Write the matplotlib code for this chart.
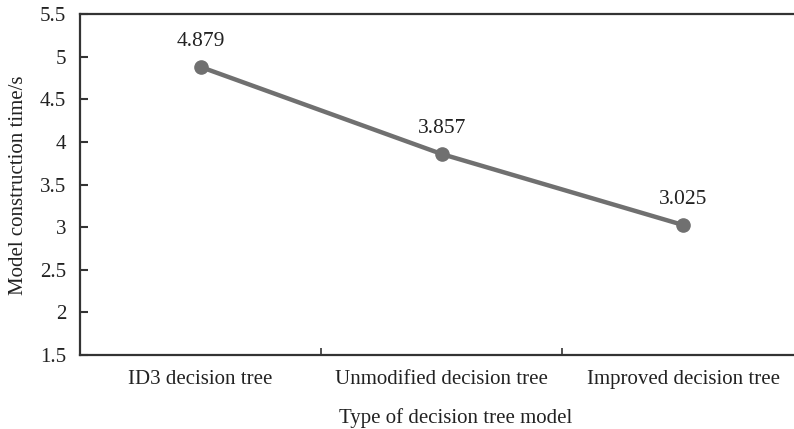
import matplotlib
matplotlib.use("Agg")
import matplotlib.pyplot as plt

categories = ["ID3 decision tree", "Unmodified decision tree", "Improved decision tree"]
times = [4.879, 3.857, 3.025]
labels = ["4.879", "3.857", "3.025"]
yticks = [1.5, 2, 2.5, 3, 3.5, 4, 4.5, 5, 5.5]
ytick_labels = ["1.5", "2", "2.5", "3", "3.5", "4", "4.5", "5", "5.5"]

plt.rcParams['font.family'] = ['Liberation Serif', 'DejaVu Serif']

fig = plt.figure(figsize=(7.94, 4.29), dpi=100)
ax = fig.add_axes([80/794, (429-355)/429, (794-80)/794, (355-14)/429])

x = list(range(len(categories)))
ax.plot(x, times, color='#707070', linewidth=3.2, marker='o', markersize=9.5,
        markerfacecolor='#707070', markeredgecolor='#707070', solid_capstyle='round')
for xi, v, lab in zip(x, times, labels):
    ax.annotate(lab, (xi, v), xytext=(0, 11.5), textcoords='offset points',
                ha='center', va='bottom', fontsize=15.5, color='#222222')

ax.set_xlim(-0.5, 2.46)
ax.set_ylim(1.5, 5.5)
ax.set_yticks(yticks)
ax.set_yticklabels(ytick_labels)
ax.set_xticks(x)
ax.set_xticklabels(categories)
ax.set_xticks([0.5, 1.5], minor=True)
ax.tick_params(axis='x', which='major', length=0, pad=11, labelsize=15, colors='#222222')
ax.tick_params(axis='x', which='minor', direction='in', length=5, width=1.2, color='#333333')
ax.tick_params(axis='y', direction='in', length=6, width=1.5, color='#333333', pad=10,
               labelsize=15, labelcolor='#222222')
for side in ['top', 'left', 'bottom']:
    ax.spines[side].set_color('#333333')
    ax.spines[side].set_linewidth(1.6)
ax.spines['right'].set_visible(False)

ax.set_xlabel("Type of decision tree model", fontsize=15, color='#222222')
ax.set_ylabel("Model construction time/s", fontsize=15, color='#222222')
ax.xaxis.set_label_coords((456 - 80) / 714, -(418 - 355) / 341, transform=ax.transAxes)
ax.yaxis.set_label_coords(-(80 - 19) / 714, (355 - 185) / 341, transform=ax.transAxes)
ax.xaxis.label.set_va('center')
ax.yaxis.label.set_va('center')

fig.savefig("out.png", dpi=100)
